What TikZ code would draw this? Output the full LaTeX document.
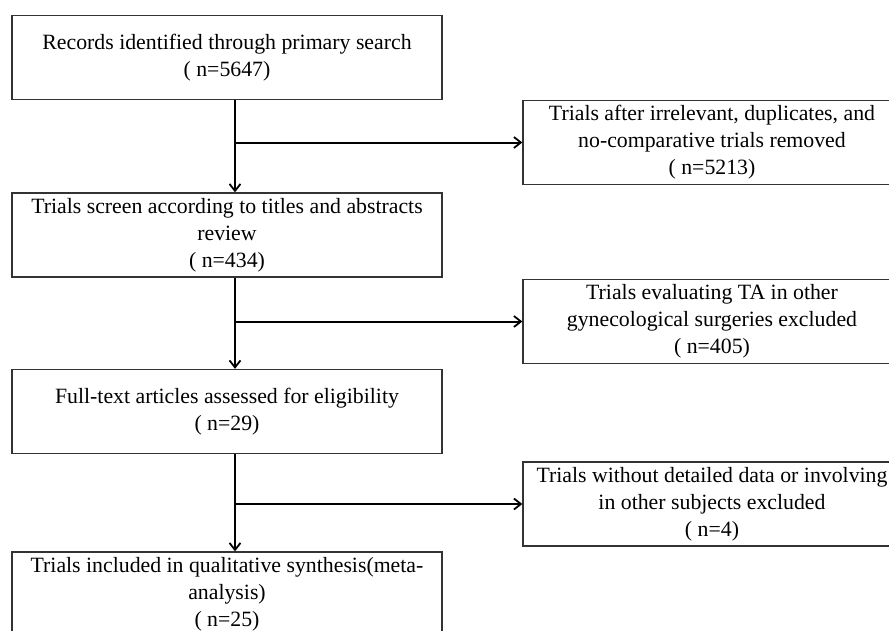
\documentclass[tikz,border=0pt]{standalone}
\usepackage{fontspec}
\setmainfont{Liberation Serif}
\usepackage{tikz}
\usetikzlibrary{arrows.meta}

\begin{document}
\begin{tikzpicture}[x=1pt,y=1pt]
            \tikzstyle{box}=[draw=black!80, line width=1.3pt, minimum height=84pt, align=center, inner sep=0pt, font=\fontsize{21.8}{27}\selectfont]
            \tikzstyle{leftbox}=[box, minimum width=430pt]
            \tikzstyle{rightbox}=[box, minimum width=378pt]
            \tikzstyle{flow}=[line width=2pt, -{Straight Barb[length=7pt,width=11pt,line width=1.8pt]}]
            \clip (0,0) rectangle (889,-630);
            \fill [white] (0,0) rectangle (889,-630);
            % main column
            \node [leftbox] (search) at (227,-57.5) {Records identified through primary search\\( n=5647)};
            \node [leftbox] (screen) at (227,-235) {Trials screen according to titles and abstracts\\review\\( n=434)};
            \node [leftbox] (fulltext) at (227,-411.5) {Full-text articles assessed for eligibility\\( n=29)};
            \node [leftbox] (included) at (227,-594) {Trials included in qualitative synthesis(meta-\\analysis)\\( n=25)};
            % excluded column
            \node [rightbox] (removed) at (712,-142.5) {Trials after irrelevant, duplicates, and\\no-comparative trials removed\\( n=5213)};
            \node [rightbox] (othersurg) at (712,-321.5) {Trials evaluating TA in other\\gynecological surgeries excluded\\( n=405)};
            \node [rightbox] (nodata) at (712,-504) {Trials without detailed data or involving\\in other subjects excluded\\( n=4)};
            \coordinate (spine) at (235,0);
            \draw [flow] (search.south -| spine) -- (screen.north -| spine);
            \draw [flow] (screen.south -| spine) -- (fulltext.north -| spine);
            \draw [flow] (fulltext.south -| spine) -- (included.north -| spine);
            \draw [flow] (spine |- removed.west) -- (removed.west);
            \draw [flow] (spine |- othersurg.west) -- (othersurg.west);
            \draw [flow] (spine |- nodata.west) -- (nodata.west);
        \end{tikzpicture}
\end{document}
